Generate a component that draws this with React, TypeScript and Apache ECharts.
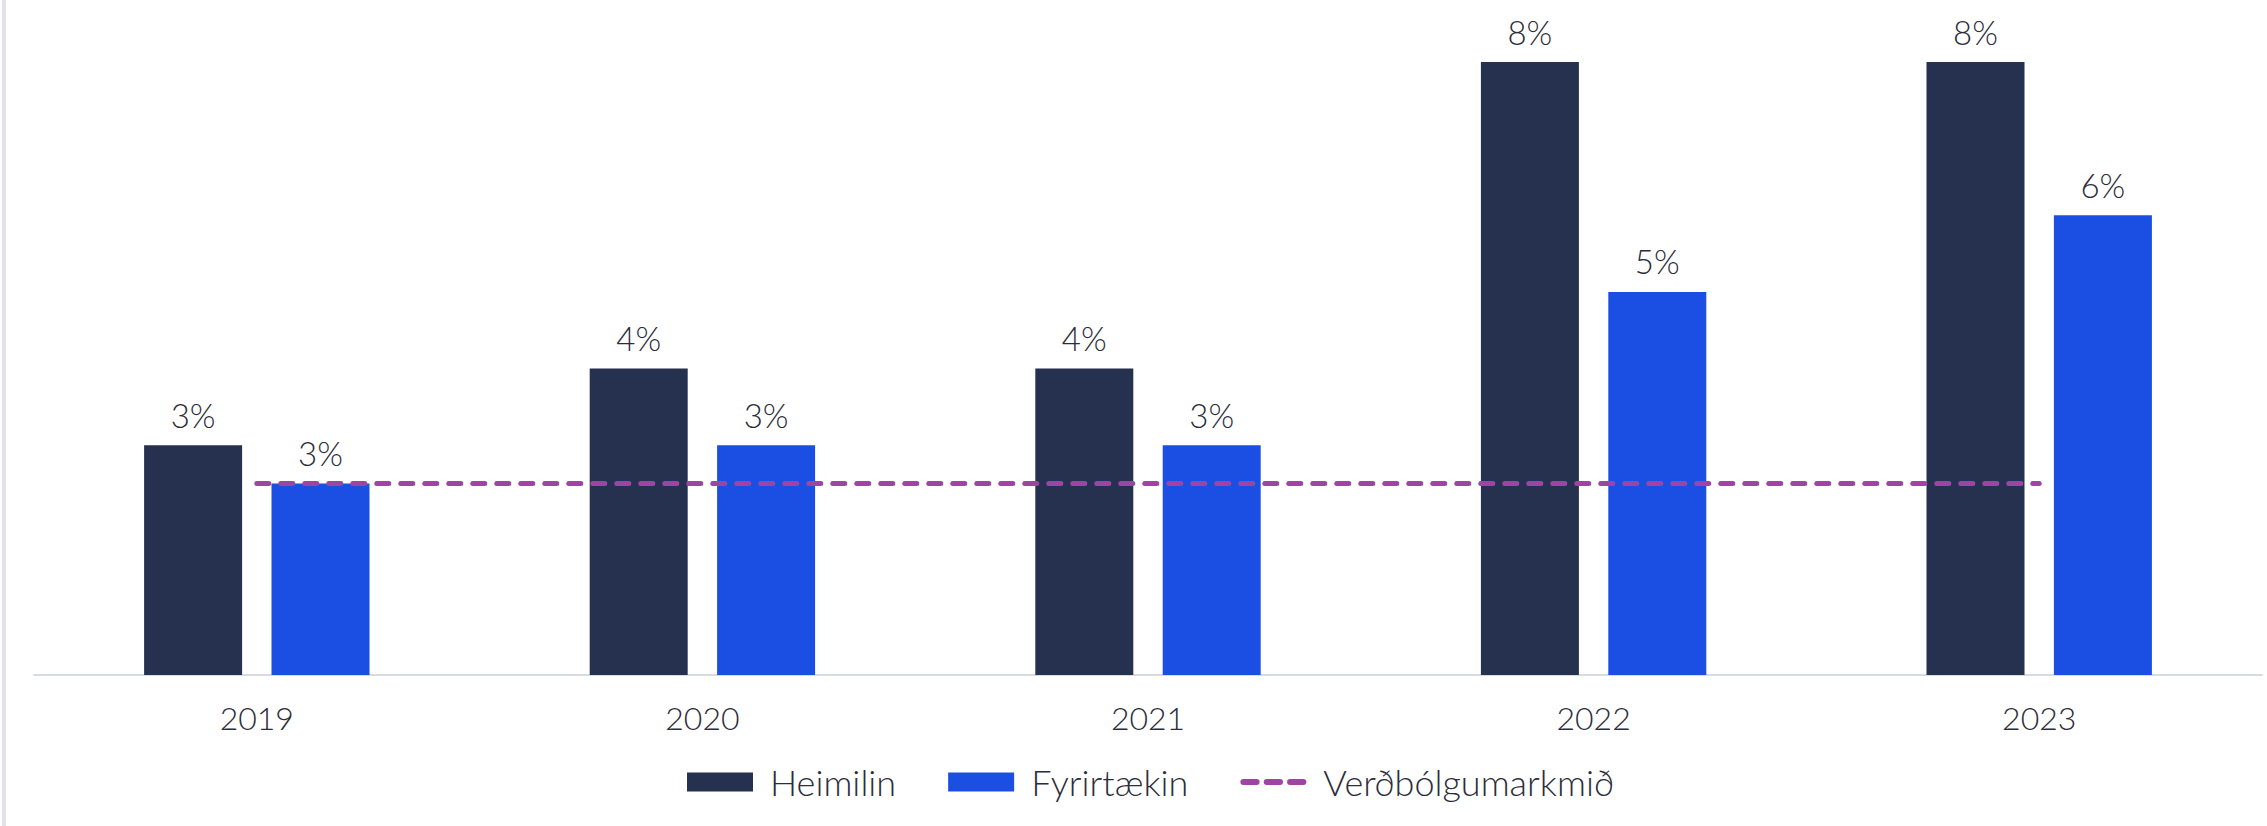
import React, { useEffect, useRef } from "react";
import * as echarts from "echarts";

const categories = ["2019", "2020", "2021", "2022", "2023"];
const heimilin = [3, 4, 4, 8, 8];
const fyrirtaekin = [2.5, 3, 3, 5, 6];
const markmid = [2.5, 2.5, 2.5, 2.5, 2.5];

const TEXT = "#2c2d3a";
const FONT = "Lato";
const WEIGHT = 300;
const LINE_COLOR = "#9e45a4";

const dashIcon =
  "path://M3,0h13a3,3 0 0 1 0,6h-13a3,3 0 0 1 0,-6z" +
  "M26,0h13a3,3 0 0 1 0,6h-13a3,3 0 0 1 0,-6z" +
  "M49,0h13a3,3 0 0 1 0,6h-13a3,3 0 0 1 0,-6z";

export default function App() {
  const ref = useRef<HTMLDivElement>(null);
  useEffect(() => {
    const chart = echarts.init(ref.current!, null, { renderer: "svg" });
    const label = {
      show: true,
      position: "top",
      distance: 14,
      color: TEXT,
      fontFamily: FONT,
      fontWeight: WEIGHT,
      fontSize: 33,
      formatter: (p: any) => Math.round(p.value) + "%",
    };
    chart.setOption({
      animation: false,
      backgroundColor: "#ffffff",
      graphic: [
        { type: "rect", shape: { x: 2, y: 0, width: 4, height: 826 }, style: { fill: "#e2e2ea" } },
      ],
      grid: { left: 34, right: 5, top: 62, bottom: 151, containLabel: false },
      legend: {
        bottom: 21,
        left: 682,
        itemWidth: 66,
        itemHeight: 19,
        itemGap: 52,
        textStyle: {
          color: TEXT,
          fontFamily: FONT,
          fontWeight: WEIGHT,
          fontSize: 36,
          padding: [0, 0, 0, 12],
        },
        data: [
          { name: "Heimilin", icon: "rect" },
          { name: "Fyrirtækin", icon: "rect" },
          {
            name: "Verðbólgumarkmið",
            icon: dashIcon,
            itemStyle: { color: LINE_COLOR, borderWidth: 0 },
          },
        ],
      },
      xAxis: {
        type: "category",
        data: categories,
        axisLine: { show: true, lineStyle: { color: "#d8dae6", width: 2 } },
        axisTick: { show: false },
        axisLabel: {
          color: TEXT,
          fontFamily: FONT,
          fontWeight: WEIGHT,
          fontSize: 32,
          margin: 26,
        },
      },
      yAxis: {
        type: "value",
        min: 0,
        max: 8,
        show: false,
        splitLine: { show: false },
      },
      series: [
        {
          name: "Heimilin",
          type: "bar",
          data: heimilin,
          barWidth: 98,
          barGap: "30%",
          itemStyle: { color: "#263150" },
          label,
        },
        {
          name: "Fyrirtækin",
          type: "bar",
          data: fyrirtaekin,
          barWidth: 98,
          barGap: "30%",
          itemStyle: { color: "#1b4fe3" },
          label,
        },
        {
          name: "Verðbólgumarkmið",
          type: "line",
          data: markmid,
          symbol: "none",
          z: 5,
          itemStyle: { color: LINE_COLOR },
          lineStyle: { color: LINE_COLOR, width: 5, type: [12, 12], cap: "round" },
        },
      ],
    });
    return () => chart.dispose();
  }, []);
  return (
    <div
      ref={ref}
      style={{ position: "fixed", left: 0, top: 0, width: 2267, height: 826 }}
    />
  );
}
